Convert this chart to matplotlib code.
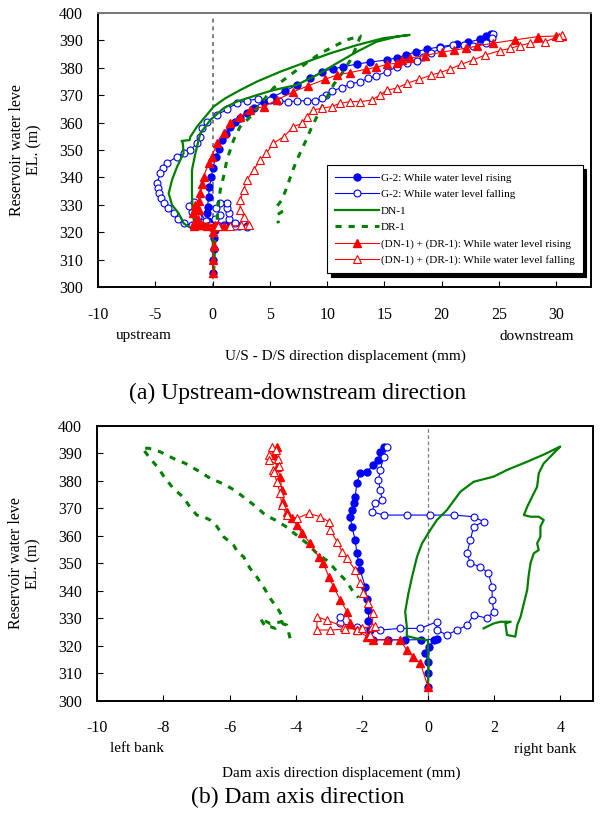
import matplotlib
matplotlib.use("Agg")
import matplotlib.pyplot as plt

plt.rcParams['font.family'] = ['Liberation Serif', 'DejaVu Serif']
plt.rcParams['axes.unicode_minus'] = False

# ---------------- (a) upstream - downstream ----------------
a_g2_rise_x = [0, 0.05, 0.1, 0.15, 0.2, 0.6, 1.5, 2.3, 3.0, 2.0, 1.0, -0.2, -0.4, -0.45, -0.44,
               -0.35, -0.29, -0.1, 0, 0.32, 0.55, 0.82, 1.2, 1.54, 2.0, 2.42, 3.0, 3.58, 4.45,
               5.3, 6.34, 7.36, 8.5, 9.54, 10.5, 11.42, 12.6, 13.7, 15.26, 16.1, 16.9, 17.76,
               18.7, 19.85, 21.3, 22.3, 23.3, 23.9, 24.3]
a_g2_rise_y = [305.3, 310, 314, 318, 321, 322.3, 322.5, 322.3, 322.4, 322.6, 322.8, 322.8, 324,
               327, 329.3, 333, 336.6, 340, 343.3, 347.6, 350.5, 353.6, 356, 358.5, 360.2, 361.5,
               363.5, 365.2, 367.6, 369.4, 371.5, 373.7, 376.2, 378.5, 379.6, 380.3, 381.3, 382.0,
               382.8, 383.6, 384.6, 385.8, 386.7, 387.6, 388.5, 389.2, 390.3, 391.5, 392.2]

a_g2_fall_x = [24.5, 24.4, 23.9, 22.75, 21.9, 21.0, 19.85, 19.1, 18.4, 17.8, 16.95, 16.1, 15.2,
               14.3, 13.6, 12.9, 12.0, 11.3, 10.4, 9.9, 9.54, 8.95, 8.2, 7.4, 6.6, 5.8, 5.0, 4.0,
               3.0, 2.1, 1.25, 0.38, -0.49, -0.92, -1.07, -1.36, -1.94, -2.5, -3.1, -3.98, -4.3,
               -4.56, -4.85, -4.8, -4.7, -4.5, -4.27, -3.9, -3.4, -3.0, -2.53, -1.8, -1.0, 0, 1.0,
               2.0, 3.0, 2.0, 1.4, 1.4, 1.3, 1.25, 0.67, 0.3, 0.67, 0.2, -0.5, -1.3, -1.8, -2.1,
               -1.6, -0.6, -0.2]
a_g2_fall_y = [392.3, 390.8, 388.9, 387.9, 388.3, 388.2, 387.0, 385.2, 383.8, 382.5, 381.6, 380.3,
               378.5, 377.0, 376.1, 374.9, 374.0, 372.7, 371.5, 370.0, 368.8, 368.0, 368.0, 367.8,
               367.6, 367.9, 368.2, 368.6, 368.0, 367.0, 364.8, 362.7, 360.3, 357.9, 354.8, 352.4,
               350.0, 348.8, 347.6, 345.2, 343.3, 341.5, 337.9, 336, 334.2, 332.4, 330.6, 328.8,
               326.9, 325.0, 323.3, 322.7, 322.5, 322.4, 322.2, 322.3, 322.0, 323.5, 325, 327, 329,
               330.8, 330.6, 329, 326.3, 325, 324, 325.5, 327.5, 329.5, 331, 324, 322.8]

a_dn1_x = [0.05, 0.05, 0.0, 0.0, -0.3, -1.65, -1.75, -1.8, -1.8, -1.5, -1.07, -0.2, 0.96, 2.1,
           3.87, 5.3, 7.36, 9.1, 10.85, 12.6, 14.3, 16.1, 17.2, 14.9, 12.6, 10.26, 7.9, 5.9,
           3.87, 2.4, 1.1, 0.09, -0.64, -1.36, -1.94, -2.0, -2.7, -2.6, -2.53, -3.1, -3.54,
           -3.83, -3.54, -2.96, -2.53, -2.1]
a_dn1_y = [305.3, 312, 318, 322, 322.5, 324.5, 328, 334.2, 342.7, 348.8, 356.1, 360.9, 365.2,
           367.6, 370.0, 371.8, 373.7, 377.3, 381.6, 385.8, 389.4, 391.3, 391.9, 390.7, 388.2,
           385.2, 381.6, 378.5, 374.9, 371.8, 368.8, 365.8, 362.1, 358.5, 354.8, 353.6, 353.3,
           352.5, 348.8, 343.9, 339.1, 334.2, 330.0, 326.9, 323.3, 322.1]

a_dr1_x = [0.1, 0.15, 0.2, 0.24, 0.4, 0.52, 0.67, 0.96, 1.25, 1.83, 2.4, 3.3, 4.45, 5.3, 6.2,
           7.36, 8.4, 9.4, 10.26, 11.7, 12.9, 12.6, 12.0, 11.3, 10.55, 9.7, 8.67, 8.1, 7.36,
           6.9, 6.5, 6.05, 5.6, 6.05, 5.6, 5.75]
a_dr1_y = [305.5, 312, 318, 320, 325, 330.6, 335.4, 340.3, 346.4, 353.6, 358.5, 362.1, 368.2,
           372.5, 375.5, 379.1, 382.3, 385.2, 387.0, 390.1, 391.5, 388, 382.5, 378.0, 373.7, 367,
           358.5, 353.0, 346.4, 341.5, 336.6, 331.8, 329.4, 327.5, 326.3, 323.3]

a_sum_rise_x = [0, 0.05, 0.1, 0.05, 0.1, -0.5, -1.2, -1.6, -1.0, 0.5, 1.0, 0.2, -1.36, -1.6,
                -1.3, -1.7, -1.2, -1.5, -1.36, -1.2, -1.07, -0.9, -0.78, -0.35, -0.05, 0.38,
                0.96, 1.54, 2.4, 3.3, 4.45, 5.6, 7.06, 8.3, 9.8, 10.85, 12.0, 13.4, 14.3, 15.26,
                16.1, 16.5, 17.2, 18.5, 20.0, 21.1, 22.1, 23.1, 24.5, 26.4, 28.4, 30.0, 30.5]
a_sum_rise_y = [305.3, 310, 315, 320, 322, 322.3, 322.5, 322.4, 322.6, 322.5, 322.4, 322.7, 324,
                323.5, 325, 327, 328, 330, 329.3, 331.5, 334.2, 337.5, 340.3, 345.2, 347.6,
                352.4, 356.1, 359.7, 362.1, 364.6, 365.8, 368.2, 371.2, 373.3, 375.7, 377.3,
                378.2, 379.4, 380.1, 381.2, 381.6, 382.8, 383.4, 384.4, 385.6, 386.4, 387.0,
                387.9, 388.9, 390.1, 391.3, 391.5, 391.6]

a_sum_fall_x = [30.5, 30.2, 29.0, 27.7, 26.8, 25.95, 25.1, 23.8, 22.75, 21.7, 20.7, 19.85, 19.1,
                18.0, 16.95, 16.1, 15.2, 14.6, 13.9, 12.9, 12.0, 11.1, 10.4, 9.54, 8.8, 8.2, 7.8,
                7.06, 6.2, 5.3, 4.7, 4.16, 3.58, 3.0, 2.7, 2.4, 2.4, 2.7, 3.14, 2.5, 1.5, 0.5]
a_sum_fall_y = [391.9, 391.3, 389.4, 388.9, 388.0, 387.0, 386.2, 384.6, 382.8, 381.2, 379.4,
                378.2, 377.3, 375.7, 374.3, 372.5, 371.8, 370.0, 368.2, 367.6, 367.6, 367.0,
                365.8, 365.2, 364.6, 362.1, 359.7, 358.5, 354.8, 352.4, 348.8, 346.4, 342.7,
                339.1, 335.4, 331.8, 328.2, 325.7, 322.7, 322.5, 322.3, 322.2]

# ---------------- (b) dam axis ----------------
b_g2_rise_x = [0, 0, 0, -0.08, 0.02, 0.17, 0.27, -0.2, -0.7, -1.2, -1.65, -1.75, -1.8, -1.8,
               -1.85, -1.9, -2.05, -2.1, -2.15, -2.2, -2.3, -2.35, -2.3, -2.25, -2.2, -2.15,
               -2.05, -1.85, -1.65, -1.5, -1.44, -1.34]
b_g2_rise_y = [305.1, 310, 314.2, 317.2, 319.6, 322.1, 322.3, 322.2, 322.1, 322.2, 322.2, 325.7,
               329, 333.0, 337, 341.5, 347.5, 350.5, 353.6, 358.4, 363.3, 366.9, 369.5, 371.8,
               374.2, 379.1, 382.7, 383.3, 385.7, 387.5, 390.5, 392.4]

b_g2_fall_x = [-1.24, -1.34, -1.44, -1.5, -1.44, -1.39, -1.6, -1.7, -1.34, -0.64, 0.07, 0.78,
               1.38, 1.68, 1.38, 1.28, 1.18, 1.28, 1.58, 1.83, 1.94, 1.94, 1.99, 1.78, 1.38,
               1.18, 0.88, 0.57, 0.27, 0.27, -0.23, -0.84, -1.44, -2.15, -2.65, -2.65]
b_g2_fall_y = [392.4, 388.7, 383.9, 380.3, 376.6, 373.0, 371.8, 368.7, 367.5, 367.5, 367.5,
               367.5, 366.9, 365.1, 363.3, 358.4, 353.6, 350.0, 348.7, 346.3, 341.5, 336.6,
               332.4, 330.0, 331.2, 327.5, 325.7, 323.9, 325.7, 328.7, 326.3, 326.3, 325.7,
               326.9, 328.1, 330.5]

b_dn1_x = [0, 0.02, 0, 0, -0.3, -0.64, -0.64, -0.69, -0.59, -0.48, -0.33, -0.18, 0.07, 0.27,
           0.57, 0.98, 1.38, 1.99, 2.39, 3.0, 3.5, 4.0, 3.9, 3.5, 3.35, 3.3, 3.15, 3.0, 2.9, 3.1,
           3.35, 3.5, 3.4, 3.4, 3.3, 3.35, 3.2, 3.1, 3.04, 3.0, 2.9, 2.8, 2.7, 2.64, 2.39, 2.34,
           2.5, 2.19, 1.99, 1.78, 1.68]
b_dn1_y = [305.1, 313.6, 318, 322, 322.5, 323.5, 326.9, 332.4, 339.1, 345.1, 352.4, 357.2,
           362.1, 365.7, 369.3, 376.0, 379.6, 381.5, 383.9, 386.9, 389.5, 392.4, 391.2, 386.3,
           382.7, 377.8, 374.2, 370.5, 367.5, 366.9, 366.9, 365.7, 363.3, 359.6, 357.2, 354.8,
           353.6, 350.0, 345.1, 340.3, 335.4, 330.5, 327.5, 323.3, 323.9, 328.1, 328.7, 328.7,
           328.1, 326.9, 326.3]

b_dr1_x = [-4.17, -4.27, -4.42, -4.62, -4.77, -4.92, -5.07, -4.77, -4.42, -4.37, -4.52, -4.77,
           -4.95, -5.17, -5.38, -5.58, -5.73, -5.88, -6.18, -6.38, -6.59, -6.79, -6.99, -7.19,
           -7.4, -7.7, -7.95, -8.15, -8.4, -8.6, -8.65, -8.45, -8.1, -7.7, -7.34, -6.99, -6.59,
           -6.18, -5.83, -5.53, -5.17, -4.92, -4.62, -4.32, -3.66, -3.36, -3.0, -2.75, -2.45,
           -2.3, -2.1]
b_dr1_y = [322.7, 327.5, 328.1, 326.3, 326.9, 326.9, 330.0, 328, 328.7, 330.0, 333.0, 337.2,
           340.9, 344.9, 348.1, 352.4, 353.6, 356.6, 359.6, 363.3, 365.7, 366.9, 367.5, 370.3,
           374.0, 377.2, 380.9, 384.5, 388.1, 391.2, 391.8, 391.8, 390.5, 388.1, 386.3, 383.9,
           380.9, 378.8, 376.4, 373.6, 370.3, 367.5, 365.7, 363.5, 357.2, 353.6, 350.5, 346.9,
           343.3, 340.3, 337.5]

b_sum_rise_x = [0, -0.23, -0.44, -0.64, -0.84, -1.24, -1.65, -1.85, -2.15, -2.35, -2.45, -2.65,
                -2.86, -3.0, -3.16, -3.31, -3.56, -3.81, -3.96, -4.11, -4.27, -4.37, -4.42,
                -4.47, -4.57, -4.67, -4.57]
b_sum_rise_y = [305.1, 313.6, 316.0, 318.4, 322.1, 322.1, 322.1, 323.3, 325.7, 328.1, 332.4,
                336.6, 341.5, 345.1, 350.0, 352.4, 357.2, 360.9, 363.9, 366.3, 368.7, 372.4,
                376.6, 381.5, 385.1, 389.3, 392.4]

b_sum_fall_x = [-4.72, -4.6, -4.8, -4.55, -4.82, -4.5, -4.7, -4.67, -4.57, -4.47, -4.42, -4.27,
                -3.96, -3.61, -3.26, -3.0, -2.96, -2.75, -2.6, -2.45, -2.2, -2.05, -1.95, -1.8,
                -1.65, -1.7, -1.75, -2.15, -2.55, -3.06, -3.36, -3.36, -2.96, -2.5, -2.0, -1.6]
b_sum_fall_y = [392.4, 391, 389.5, 388, 387.5, 385.5, 384, 383.3, 379.6, 375.4, 371.2, 367.5,
                366.3, 368.1, 366.9, 365.1, 362.1, 357.8, 354.2, 351.8, 347.5, 342.7, 339.1,
                335.4, 331.8, 326.9, 323.9, 325.7, 326.9, 329.3, 330.5, 325.7, 325.7, 326, 326.5,
                327]

a_xticks = [-10, -5, 0, 5, 10, 15, 20, 25, 30]
b_xticks = [-10, -8, -6, -4, -2, 0, 2, 4]
yticks = [300, 310, 320, 330, 340, 350, 360, 370, 380, 390, 400]

labels = ['G-2: While water level rising', 'G-2: While water level falling', 'DN-1', 'DR-1',
          '(DN-1) + (DR-1): While water level rising',
          '(DN-1) + (DR-1): While water level falling']

BLUE = '#0000ff'
RED = '#ff0000'
GREEN = '#007f00'


def draw_series(ax, data):
    (g2r, g2f, dn1, dr1, sr, sf) = data
    ax.plot(*g2r, color=BLUE, lw=0.8, marker='o', ms=5, mfc=BLUE, mec=BLUE, label=labels[0])
    ax.plot(*g2f, color=BLUE, lw=0.8, marker='o', ms=5, mfc='white', mec=BLUE, mew=0.8,
            label=labels[1])
    ax.plot(*dn1, color=GREEN, lw=1.6, label=labels[2])
    ax.plot(*dr1, color=GREEN, lw=2.2, ls=(0, (2, 2.3)), label=labels[3])
    ax.plot(*sr, color=RED, lw=0.8, marker='^', ms=5.5, mfc=RED, mec=RED, label=labels[4])
    ax.plot(*sf, color=RED, lw=0.8, marker='^', ms=5.5, mfc='white', mec=RED, mew=0.8,
            label=labels[5])


def style_axes(ax, xlim, xticks, top_color):
    ax.set_xlim(*xlim)
    ax.set_ylim(300, 400)
    ax.set_xticks(xticks)
    ax.set_yticks(yticks)
    ax.tick_params(direction='in', length=4, width=0.8, labelsize=11.5, top=False, right=False)
    ax.tick_params(axis='x', pad=14)
    ax.tick_params(axis='y', pad=11)
    for s in ax.spines.values():
        s.set_linewidth(1.4)
        s.set_color('black')
    ax.spines['top'].set_color(top_color)
    ax.text(-0.147, 0.5, 'Reservoir water leve\nEL. (m)', transform=ax.transAxes,
            rotation=90, ha='center', va='center', fontsize=11.5, linespacing=1.1)


fig = plt.figure(figsize=(6.02, 8.18), dpi=100)

ax1 = fig.add_axes([0.1628, 0.6488, 0.8184, 0.3357])
ax1.axvline(0, ymax=0.985, color='#808080', lw=1.4, ls=(0, (2, 2)), zorder=1)
draw_series(ax1, [(a_g2_rise_x, a_g2_rise_y), (a_g2_fall_x, a_g2_fall_y), (a_dn1_x, a_dn1_y),
                  (a_dr1_x, a_dr1_y), (a_sum_rise_x, a_sum_rise_y),
                  (a_sum_fall_x, a_sum_fall_y)])
style_axes(ax1, (-10, 33), a_xticks, '#777777')
leg = ax1.legend(loc='lower right', bbox_to_anchor=(0.984, 0.051), borderaxespad=0,
                 fontsize=8, handlelength=4.0, handletextpad=0.15, labelspacing=0.6,
                 borderpad=0.7, fancybox=False, framealpha=1,
                 shadow={'color': 'black', 'alpha': 1, 'ox': 2.5, 'oy': -2.5})
leg.get_frame().set_edgecolor('black')
leg.get_frame().set_linewidth(0.8)

fig.text(143.3 / 602, 1 - 336 / 818, 'upstream', ha='center', va='center', fontsize=11)
fig.text(536.7 / 602, 1 - 336 / 818, 'downstream', ha='center', va='center', fontsize=11)
fig.text(345 / 602, 1 - 356 / 818, 'U/S - D/S direction displacement (mm)', ha='center',
         va='center', fontsize=11)
fig.text(298 / 602, 1 - 393 / 818, '(a) Upstream-downstream direction', ha='center',
         va='center', fontsize=17)

ax2 = fig.add_axes([0.1616, 0.1434, 0.8240, 0.3362])
ax2.axvline(0, color='#808080', lw=0.9, ls=(0, (3, 2)), zorder=1)
draw_series(ax2, [(b_g2_rise_x, b_g2_rise_y), (b_g2_fall_x, b_g2_fall_y), (b_dn1_x, b_dn1_y),
                  (b_dr1_x, b_dr1_y), (b_sum_rise_x, b_sum_rise_y),
                  (b_sum_fall_x, b_sum_fall_y)])
style_axes(ax2, (-10, 5), b_xticks, 'black')

fig.text(136.7 / 602, 1 - 749 / 818, 'left bank', ha='center', va='center', fontsize=11)
fig.text(545 / 602, 1 - 749 / 818, 'right bank', ha='center', va='center', fontsize=11)
fig.text(341.7 / 602, 1 - 773 / 818, 'Dam axis direction displacement (mm)', ha='center',
         va='center', fontsize=11)
fig.text(297.5 / 602, 1 - 797 / 818, '(b) Dam axis direction', ha='center', va='center',
         fontsize=17)

fig.savefig('out.png', dpi=100)
